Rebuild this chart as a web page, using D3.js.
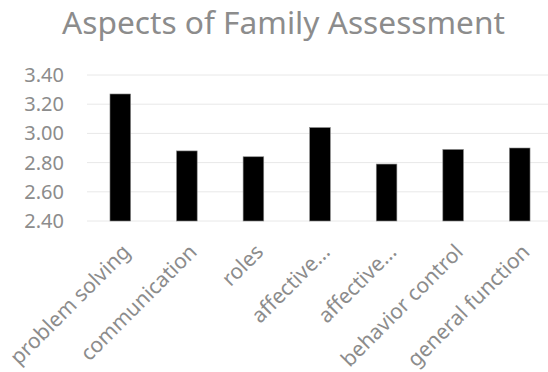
<!DOCTYPE html>
<html><head><meta charset="utf-8">
<script src="https://cdn.jsdelivr.net/npm/d3@7"></script>
<style>body{margin:0;background:#fff;} svg{display:block;font-family:"Noto Sans","Open Sans",sans-serif;}</style>
</head><body>
<svg id="c" width="548" height="372"></svg>
<script>
const categories = ["problem solving","communication","roles","affective...","affective...","behavior control","general function"];
const values = [3.27, 2.88, 2.84, 3.04, 2.79, 2.89, 2.90];
const yTicks = [2.40, 2.60, 2.80, 3.00, 3.20, 3.40];
const title = "Aspects of Family Assessment";

const svg = d3.select("#c");
const x = d3.scaleBand().domain(d3.range(categories.length)).range([87, 553]).paddingInner(0.69).paddingOuter(0.345);
const y = d3.scaleLinear().domain([2.4, 3.4]).range([221, 75]);

svg.append("text").attr("x", 62).attr("y", 34)
  .attr("textLength", 443).attr("lengthAdjust", "spacingAndGlyphs")
  .attr("fill", "#8c8c8c").style("font-size", "31px").text(title);

const grid = svg.append("g");
grid.selectAll("line").data(yTicks).join("line")
  .attr("x1", 87).attr("x2", 548).attr("y1", d => y(d)).attr("y2", d => y(d))
  .attr("stroke", "#e8e8e8").attr("stroke-width", 1);

const yAxis = svg.append("g").attr("transform", "translate(64,0)")
  .call(d3.axisLeft(y).tickValues(yTicks).tickFormat(d3.format(".2f")).tickSize(0).tickPadding(0));
yAxis.select(".domain").remove();
yAxis.selectAll("text").attr("fill", "#8c8c8c").style("font-size", "20px").style("font-family", "'Noto Sans','Open Sans',sans-serif");

svg.append("g").selectAll("rect").data(values).join("rect")
  .attr("x", (d, i) => x(i)).attr("width", x.bandwidth())
  .attr("y", d => y(d)).attr("height", d => y(2.4) - y(d))
  .attr("fill", "#000").attr("stroke", "#888").attr("stroke-width", 0.6);

svg.append("g").selectAll("text").data(categories).join("text")
  .attr("transform", (d, i) => `translate(${x(i) + x.bandwidth() / 2 + 6},${248}) rotate(-45)`)
  .attr("text-anchor", "end").attr("dy", "0.35em")
  .attr("fill", "#8c8c8c").style("font-size", "21px").text(d => d);
</script>
</body></html>
